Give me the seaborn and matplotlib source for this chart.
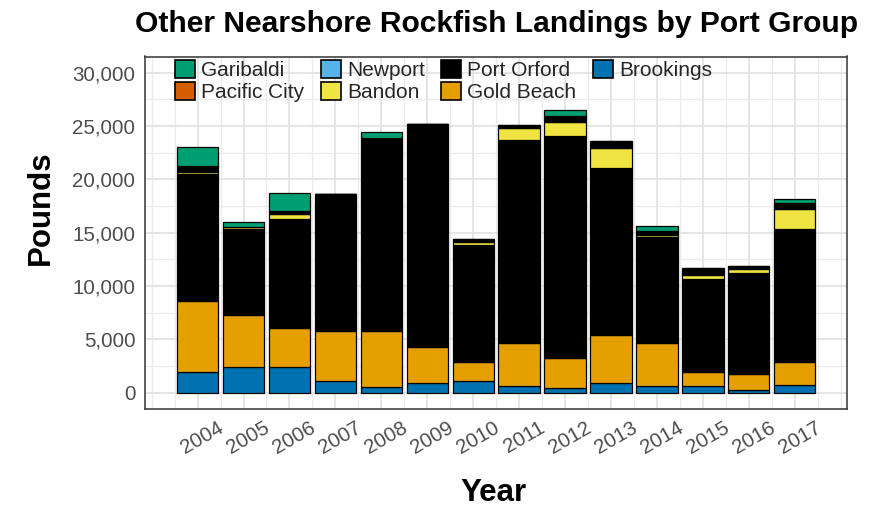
import numpy as np
import pandas as pd
import matplotlib
matplotlib.use("Agg")
import matplotlib.pyplot as plt
import matplotlib.transforms as mtransforms
from matplotlib.patches import Patch
from matplotlib.ticker import FuncFormatter
import seaborn as sns

# ---------------- data ----------------
years = [2004, 2005, 2006, 2007, 2008, 2009, 2010, 2011, 2012, 2013, 2014, 2015, 2016, 2017]
brookings = [1970, 2440, 2440, 1100, 510, 890, 1100, 660, 480, 880, 660, 660, 260, 730]
gold_beach = [6590, 4810, 3660, 4660, 5250, 3350, 1800, 3950, 2790, 4480, 3950, 1310, 1490, 2170]
port_orford = [11890, 8080, 10160, 12830, 18110, 20940, 10940, 19100, 20760, 15650, 9940, 8640, 9450, 12430]
bandon = [220, 220, 470, 0, 0, 0, 240, 1090, 1330, 1930, 250, 430, 400, 1920]
port_orford_upper = [560, 0, 310, 0, 0, 0, 300, 310, 530, 680, 310, 650, 310, 530]
newport = [0] * 14
pacific_city = [0] * 14
garibaldi = [1800, 430, 1710, 0, 530, 0, 0, 0, 560, 0, 530, 0, 0, 340]

legend_ports = ["Garibaldi", "Pacific City", "Newport", "Bandon", "Port Orford", "Gold Beach", "Brookings"]
port_colors = {
    "Garibaldi": "#009E73",
    "Pacific City": "#D55E00",
    "Newport": "#56B4E9",
    "Bandon": "#F0E442",
    "Port Orford": "#000000",
    "Gold Beach": "#E69F00",
    "Brookings": "#0072B2",
}
y_ticks = [0, 5000, 10000, 15000, 20000, 25000, 30000]

# stacked segments, listed top -> bottom
segments = {
    "Garibaldi": garibaldi,
    "Port Orford (2)": port_orford_upper,
    "Bandon": bandon,
    "Port Orford": port_orford,
    "Gold Beach": gold_beach,
    "Brookings": brookings,
}
seg_colors = {k: port_colors.get(k, "#000000") for k in segments}

rows = []
for seg, vals in segments.items():
    for y, v in zip(years, vals):
        rows.append({"Year": y, "Segment": seg, "Pounds": v})
df = pd.DataFrame(rows)

# ---------------- style ----------------
sns.set_theme(style="white")
plt.rcParams["font.family"] = ["Liberation Sans", "DejaVu Sans"]

fig = plt.figure(figsize=(8.69, 5.07), dpi=100)
ax = fig.add_axes([145 / 869, 1 - 408.7 / 507, (847.3 - 145) / 869, (408.7 - 56.5) / 507])

sns.histplot(
    data=df, x="Year", weights="Pounds", hue="Segment",
    hue_order=list(segments.keys()), palette=seg_colors,
    multiple="stack", discrete=True, shrink=0.9, alpha=1,
    edgecolor="black", linewidth=0.9, legend=False, ax=ax, zorder=3,
)

x_lo = min(years) - 0.45
x_hi = max(years) + 0.45
pad = (x_hi - x_lo) * 0.05
ax.set_xlim(x_lo - pad, x_hi + pad)
ax.set_ylim(-1500, 31500)

ax.set_xticks(years)
ax.set_xticklabels([str(y) for y in years], rotation=30, ha="center")
ax.set_xticks(list(np.arange(min(years) - 1, max(years) + 1.01, 0.5)), minor=True)
ax.set_yticks(y_ticks)
ax.set_yticks([t + 2500 for t in y_ticks[:-1]], minor=True)
ax.yaxis.set_major_formatter(FuncFormatter(lambda v, p: f"{int(v):,}"))

ax.grid(True, which="major", color="#E3E3E3", linewidth=1.3, zorder=0)
ax.grid(True, which="minor", color="#EBEBEB", linewidth=0.9, zorder=0)
ax.set_axisbelow(True)
ax.tick_params(axis="both", which="major", length=4, width=1, color="#333333",
               labelcolor="#4D4D4D", labelsize=14.8, pad=3)
ax.tick_params(axis="both", which="minor", length=0)
for s in ax.spines.values():
    s.set_color("#333333")
    s.set_linewidth(1.1)

offset = mtransforms.ScaledTranslation(5 / 100, 0, fig.dpi_scale_trans)
for lab in ax.get_xticklabels():
    lab.set_transform(lab.get_transform() + offset)

ax.set_xlabel("")
ax.set_ylabel("")

fig.text((145 + 847.3) / 2 / 869, 1 - 32 / 507, "Other Nearshore Rockfish Landings by Port Group",
         ha="center", va="baseline", fontsize=21.6, fontweight="bold", color="black")
fig.text(493 / 869, 1 - 501 / 507, "Year", ha="center", va="baseline",
         fontsize=22.5, fontweight="bold", color="black")
fig.text(56 / 869, 1 - 208 / 507, "Pounds", ha="right", va="center", rotation=90,
         fontsize=22.5, fontweight="bold", color="black")

handles = [Patch(facecolor=port_colors[p], edgecolor="black", linewidth=1.2, label=p) for p in legend_ports]
leg = ax.legend(handles=handles, ncol=4, loc="upper left",
                bbox_to_anchor=(175 / 869, 1 - 60 / 507), bbox_transform=fig.transFigure,
                frameon=False, fontsize=15, handlelength=0.95, handleheight=0.95,
                handletextpad=0.3, columnspacing=0.8, labelspacing=0.08, borderpad=0,
                borderaxespad=0)

fig.savefig("out.png", dpi=100)
